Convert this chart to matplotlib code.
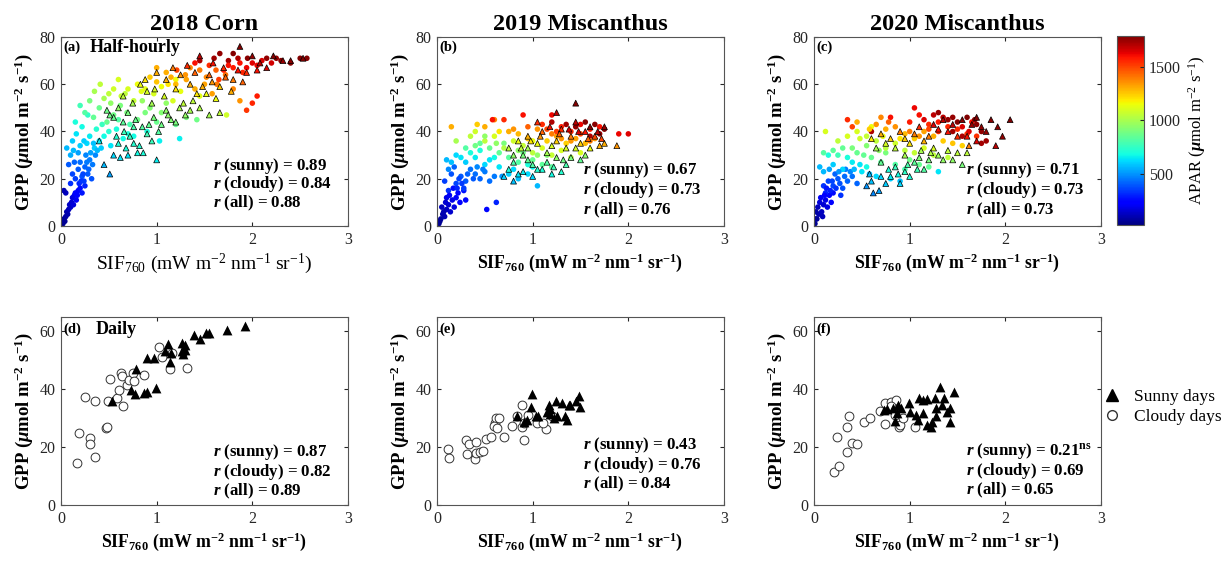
import numpy as np
import matplotlib.pyplot as plt
from matplotlib.lines import Line2D

plt.rcParams['font.family'] = ['Liberation Serif', 'DejaVu Serif']
plt.rcParams['mathtext.fontset'] = 'custom'
plt.rcParams['mathtext.rm'] = 'Liberation Serif'
plt.rcParams['mathtext.it'] = 'Liberation Serif:italic:bold'
plt.rcParams['mathtext.bf'] = 'Liberation Serif:bold'

# ---- half-hourly data, (SIF760, GPP, APAR) ----
a_cloudy = [
    (0.02, 1, 50), (0.03, 3, 60), (0.05, 4, 80), (0.06, 6, 90), (0.08, 7, 110), (0.09, 9, 130),
    (0.11, 10, 150), (0.12, 12, 170), (0.14, 13, 190), (0.05, 14, 120), (0.03, 15, 100), (0.16, 11, 200),
    (0.18, 15, 230), (0.20, 16, 260), (0.22, 14, 280), (0.25, 17, 300),
    (0.10, 18, 320), (0.12, 22, 360), (0.15, 20, 350), (0.18, 24, 400), (0.20, 27, 430), (0.22, 21, 380),
    (0.25, 25, 420), (0.28, 22, 400), (0.30, 28, 460), (0.33, 26, 450), (0.36, 30, 480), (0.14, 27, 420),
    (0.08, 26, 400), (0.26, 30, 470), (0.32, 20, 380),
    (0.06, 33, 560), (0.10, 30, 540), (0.12, 36, 600), (0.16, 39, 640), (0.20, 34, 600), (0.22, 42, 680),
    (0.27, 35, 620), (0.30, 38, 650), (0.35, 33, 600), (0.40, 36, 640), (0.45, 38, 680), (0.52, 34, 640),
    (0.58, 41, 700), (0.70, 39, 700), (0.76, 38, 680), (0.90, 40, 700), (1.03, 36, 660), (1.24, 37, 660),
    (0.15, 44, 700), (0.28, 47, 740), (0.20, 51, 780),
    (0.25, 48, 820), (0.34, 46, 850), (0.40, 50, 870), (0.48, 44, 860), (0.55, 47, 880), (0.62, 51, 900),
    (0.69, 48, 900), (0.80, 45, 880), (0.93, 50, 920), (1.00, 44, 870), (1.10, 52, 950), (1.31, 46, 900),
    (1.42, 45, 880), (1.20, 43, 860), (0.85, 53, 960),
    (0.41, 60, 1050), (0.50, 56, 1050), (0.55, 58, 1080), (0.63, 55, 1060), (0.70, 58, 1100), (0.76, 53, 1060),
    (0.84, 57, 1120), (0.97, 56, 1100), (1.05, 59, 1150), (1.17, 53, 1100), (1.25, 57, 1140), (1.45, 55, 1120),
    (1.73, 47, 1080), (0.60, 62, 1100), (0.45, 54, 1000), (1.20, 62, 1160),
    (0.93, 63, 1250), (1.00, 61, 1260), (1.10, 65, 1300), (1.20, 60, 1280), (1.31, 62, 1320), (1.40, 58, 1300),
    (1.52, 63, 1380), (1.63, 60, 1400), (1.72, 64, 1420), (1.80, 58, 1380), (1.87, 53, 1350), (1.45, 66, 1400),
    (1.35, 67, 1380), (1.00, 67, 1300), (1.58, 56, 1330),
    (1.21, 66, 1500), (1.55, 68, 1550), (1.70, 66, 1570), (1.80, 67, 1580), (1.87, 69, 1600), (1.94, 67, 1620),
    (2.00, 69, 1640), (1.90, 65, 1560), (2.00, 52, 1560), (2.05, 55, 1580), (1.94, 49, 1530), (2.10, 70, 1650),
    (2.20, 69, 1660), (1.65, 62, 1520),
    (1.45, 70, 1720), (1.60, 71, 1740), (1.66, 73, 1760), (1.80, 73, 1780), (1.95, 71, 1770), (2.15, 71, 1760),
    (2.30, 70, 1770), (2.40, 69, 1780), (2.50, 71, 1790), (2.57, 71, 1780), (1.75, 70, 1740),
    (0.04, 2, 60), (0.07, 5, 90), (0.10, 8, 130), (0.13, 9, 160), (0.15, 14, 220), (0.17, 13, 230),
    (0.19, 18, 300), (0.21, 19, 330), (0.23, 22, 360), (0.24, 19, 340), (0.27, 27, 450), (0.29, 24, 420),
    (0.31, 31, 520), (0.34, 35, 580), (0.38, 32, 560), (0.42, 33, 600), (0.18, 31, 520), (0.24, 36, 600),
    (0.13, 32, 560), (0.37, 41, 720), (0.43, 43, 760), (0.50, 40, 720), (0.65, 37, 680), (0.60, 45, 820),
    (0.72, 43, 800), (0.88, 48, 900), (1.05, 48, 920), (0.52, 52, 950), (0.67, 56, 1050), (0.80, 60, 1150),
    (0.88, 58, 1130), (1.12, 60, 1200), (1.30, 64, 1350), (1.50, 60, 1320), (1.62, 66, 1450), (1.75, 68, 1600),
    (1.85, 71, 1720), (2.05, 68, 1620), (2.25, 71, 1760), (1.40, 69, 1600), (1.15, 63, 1300), (0.30, 53, 900),
    (0.35, 57, 1000),
]
a_sunny = [
    (0.45, 26, 560), (0.51, 22, 520), (0.55, 30, 620), (0.62, 29, 640), (0.60, 35, 700), (0.68, 33, 700),
    (0.72, 38, 750), (0.76, 35, 720), (0.80, 31, 680), (0.86, 31, 700), (0.90, 39, 780), (0.95, 36, 760),
    (1.00, 28, 650), (0.85, 42, 820), (0.76, 42, 800), (0.65, 44, 840), (0.55, 46, 860), (0.51, 47, 880),
    (0.97, 46, 900), (1.05, 43, 880), (1.10, 49, 950), (1.15, 45, 920), (1.24, 50, 1000), (1.30, 47, 960),
    (1.38, 53, 1050), (1.45, 50, 1020), (1.52, 56, 1150), (1.55, 47, 1000), (1.66, 48, 1050), (1.66, 59, 1250),
    (1.80, 62, 1400), (1.94, 65, 1550), (2.15, 67, 1650), (2.32, 70, 1750), (2.53, 71, 1780), (0.65, 55, 1050),
    (0.75, 52, 1000), (0.83, 60, 1150), (0.90, 57, 1100), (1.00, 65, 1300), (1.08, 55, 1100), (1.17, 67, 1400),
    (1.25, 64, 1350), (1.35, 60, 1300), (1.45, 72, 1700), (1.59, 69, 1600), (1.70, 67, 1550), (1.87, 76, 1790),
    (2.00, 72, 1750), (2.22, 72, 1780), (0.48, 49, 880), (1.40, 65, 1450), (1.20, 58, 1200), (2.05, 66, 1600),
    (0.95, 52, 1000), (0.70, 48, 900),
    (0.58, 38, 720), (0.66, 40, 760), (0.70, 30, 640), (0.78, 45, 860), (0.82, 34, 720), (0.92, 43, 860),
    (1.02, 40, 820), (1.12, 47, 940), (1.20, 44, 900), (1.28, 52, 1050), (1.35, 49, 1000), (1.42, 56, 1200),
    (1.48, 59, 1300), (1.58, 61, 1350), (1.62, 54, 1150), (1.72, 63, 1450), (1.78, 57, 1300), (1.85, 66, 1600),
    (1.90, 61, 1450), (2.08, 69, 1700), (2.40, 70, 1770), (0.60, 50, 950), (0.88, 62, 1200), (1.10, 62, 1300),
    (1.32, 68, 1550), (1.55, 64, 1450), (0.98, 58, 1100), (0.40, 36, 650),
]

b_cloudy = [
    (0.02, 1, 50), (0.04, 3, 70), (0.06, 5, 90), (0.08, 4, 100), (0.10, 7, 120), (0.12, 9, 150),
    (0.14, 6, 140), (0.16, 11, 180), (0.18, 8, 170), (0.20, 12, 210), (0.22, 14, 240), (0.24, 10, 220),
    (0.28, 15, 270), (0.10, 12, 180), (0.05, 8, 120), (0.52, 7, 250), (0.62, 10, 300), (0.30, 11, 250),
    (0.08, 19, 350), (0.12, 15, 330), (0.15, 22, 380), (0.20, 18, 360), (0.25, 21, 400), (0.30, 19, 400),
    (0.35, 24, 440), (0.40, 22, 430), (0.45, 20, 420), (0.50, 23, 450), (0.55, 19, 430), (0.60, 21, 450),
    (0.18, 25, 420), (0.28, 16, 350),
    (0.10, 28, 560), (0.15, 27, 580), (0.20, 30, 620), (0.30, 27, 600), (0.40, 29, 650), (0.50, 26, 620),
    (0.65, 25, 640), (0.75, 22, 600), (0.85, 20, 580), (0.95, 22, 620), (1.05, 17, 560), (1.00, 25, 660),
    (0.60, 29, 680), (0.45, 32, 700),
    (0.30, 33, 820), (0.45, 35, 850), (0.55, 33, 860), (0.65, 31, 850), (0.75, 29, 830), (0.85, 27, 820),
    (1.00, 28, 860), (1.10, 26, 840), (1.20, 25, 830), (0.70, 35, 900), (0.90, 31, 880), (1.15, 30, 920),
    (0.35, 38, 1050), (0.40, 40, 1080), (0.50, 36, 1050), (0.60, 38, 1100), (0.70, 33, 1020), (0.80, 36, 1080),
    (0.90, 34, 1060), (1.00, 31, 1040), (1.10, 33, 1100), (1.20, 30, 1060), (1.30, 32, 1100), (1.40, 29, 1040),
    (1.50, 31, 1100), (0.20, 36, 1000),
    (0.15, 42, 1300), (0.50, 42, 1300), (0.60, 45, 1380), (0.75, 40, 1300), (0.85, 39, 1280), (0.95, 37, 1260),
    (1.05, 41, 1350), (1.15, 36, 1250), (1.25, 38, 1320), (1.35, 35, 1240), (1.45, 37, 1320), (1.55, 35, 1280),
    (1.65, 37, 1350), (0.42, 43, 1250),
    (0.70, 45, 1550), (0.90, 47, 1600), (1.10, 43, 1550), (1.20, 47, 1620), (1.30, 42, 1580), (1.40, 40, 1550),
    (1.50, 43, 1620), (1.60, 41, 1580), (1.70, 42, 1600), (1.90, 39, 1620), (2.00, 39, 1640), (1.25, 40, 1520),
    (1.35, 43, 1740), (1.45, 42, 1760), (1.55, 44, 1780), (1.65, 43, 1770), (1.75, 41, 1790), (1.70, 39, 1750),
    (1.60, 38, 1720), (1.20, 44, 1720),
    (0.03, 2, 60), (0.07, 6, 100), (0.09, 10, 150), (0.13, 13, 200), (0.17, 16, 260), (0.21, 16, 300),
    (0.23, 20, 360), (0.26, 18, 340), (0.32, 22, 410), (0.38, 20, 400), (0.42, 25, 480), (0.48, 24, 460),
    (0.55, 28, 640), (0.35, 31, 700), (0.25, 29, 640), (0.12, 24, 480), (0.68, 21, 500), (0.80, 24, 620),
    (0.95, 26, 700), (0.50, 38, 950), (0.40, 34, 880), (0.62, 35, 950), (0.85, 32, 950), (1.05, 30, 950),
    (0.65, 40, 1200), (0.80, 41, 1350), (0.95, 42, 1450), (1.00, 36, 1150), (1.20, 39, 1400), (1.40, 36, 1350),
    (1.50, 39, 1500), (1.60, 36, 1400), (0.58, 45, 1600), (1.15, 41, 1500), (1.30, 37, 1350),
]
b_sunny = [
    (0.70, 21, 600), (0.80, 19, 580), (0.90, 23, 650), (1.00, 21, 620), (1.10, 24, 700), (1.20, 22, 680),
    (1.30, 23, 720), (1.35, 26, 800), (0.80, 27, 800), (0.90, 30, 900), (1.00, 26, 820), (0.75, 33, 1050),
    (0.85, 36, 1150), (0.95, 38, 1300), (1.05, 35, 1150), (1.10, 40, 1450), (1.15, 31, 1000), (1.25, 36, 1250),
    (1.25, 29, 950), (1.30, 41, 1550), (1.35, 33, 1100), (1.40, 38, 1400), (1.45, 44, 1700), (1.45, 52, 1780),
    (1.50, 35, 1250), (1.55, 40, 1600), (1.60, 33, 1150), (1.65, 38, 1500), (1.70, 34, 1300), (1.75, 35, 1300),
    (1.88, 34, 1350), (1.75, 42, 1750), (1.25, 48, 1700), (1.05, 44, 1550), (1.40, 29, 900), (1.50, 28, 850),
    (1.55, 30, 950), (0.95, 33, 1000), (1.20, 34, 1100), (1.60, 42, 1780),
    (0.75, 24, 700), (0.85, 22, 640), (0.95, 28, 850), (1.05, 24, 720), (1.15, 27, 820), (1.22, 25, 780),
    (1.32, 28, 880), (0.88, 33, 1050), (0.98, 36, 1200), (1.08, 38, 1350), (1.18, 42, 1600), (1.28, 39, 1450),
    (1.38, 41, 1650), (1.48, 40, 1650), (1.58, 37, 1450), (1.68, 40, 1700), (1.72, 37, 1500), (0.80, 30, 950),
    (1.45, 33, 1100),
]

c_cloudy = [
    (0.01, 1, 50), (0.03, 3, 70), (0.05, 5, 90), (0.04, 8, 110), (0.08, 6, 120), (0.10, 9, 150),
    (0.12, 11, 180), (0.14, 8, 170), (0.07, 12, 200), (0.16, 13, 230), (0.20, 14, 260), (0.18, 10, 220),
    (0.02, 6, 80), (0.09, 4, 110),
    (0.10, 17, 330), (0.15, 19, 360), (0.20, 17, 360), (0.25, 20, 400), (0.30, 16, 380), (0.35, 19, 420),
    (0.40, 21, 440), (0.28, 13, 330), (0.22, 22, 420), (0.12, 14, 300), (0.45, 18, 420), (0.33, 24, 460),
    (0.06, 25, 560), (0.10, 23, 560), (0.20, 26, 600), (0.30, 24, 620), (0.40, 27, 650), (0.50, 23, 640),
    (0.55, 25, 680), (0.65, 21, 620), (0.80, 20, 600), (0.90, 19, 580), (1.30, 23, 640), (0.15, 30, 700),
    (0.35, 29, 700),
    (0.10, 31, 820), (0.20, 32, 840), (0.30, 33, 850), (0.45, 31, 860), (0.60, 29, 860), (0.70, 27, 840),
    (0.85, 26, 820), (0.95, 24, 800), (1.00, 28, 880), (1.10, 26, 860), (1.20, 25, 850), (0.55, 34, 920),
    (0.75, 31, 900),
    (0.25, 36, 1050), (0.35, 38, 1100), (0.45, 40, 1100), (0.55, 38, 1060), (0.65, 36, 1050), (0.75, 33, 1040),
    (0.85, 35, 1080), (0.95, 32, 1050), (1.05, 31, 1060), (1.15, 33, 1100), (1.25, 30, 1040), (1.40, 29, 1050),
    (0.12, 40, 1100), (0.60, 42, 1150),
    (0.45, 44, 1300), (0.65, 43, 1350), (0.75, 41, 1300), (0.85, 42, 1360), (0.95, 39, 1280), (1.05, 37, 1250),
    (1.15, 40, 1320), (1.25, 38, 1300), (1.35, 36, 1250), (1.45, 35, 1260), (1.55, 34, 1240), (0.70, 46, 1380),
    (0.35, 45, 1550), (0.80, 46, 1600), (1.00, 44, 1580), (1.05, 50, 1620), (1.10, 47, 1600), (1.20, 43, 1550),
    (1.30, 44, 1580), (1.40, 42, 1560), (1.50, 41, 1550), (1.60, 39, 1530), (1.70, 38, 1540), (1.65, 44, 1600),
    (0.40, 42, 1500),
    (0.60, 40, 1720), (1.30, 48, 1750), (1.40, 45, 1760), (1.50, 44, 1780), (1.60, 46, 1790), (1.70, 43, 1770),
    (1.75, 40, 1760), (1.80, 36, 1740), (1.55, 38, 1720), (1.45, 40, 1740), (1.75, 35, 1730),
    (0.02, 3, 60), (0.06, 10, 160), (0.11, 13, 220), (0.13, 16, 280), (0.17, 15, 290), (0.19, 19, 360),
    (0.23, 16, 330), (0.27, 18, 380), (0.32, 21, 430), (0.38, 23, 480), (0.26, 23, 500), (0.16, 24, 520),
    (0.42, 24, 560), (0.48, 26, 640), (0.58, 22, 580), (0.25, 30, 780), (0.40, 33, 900), (0.52, 30, 850),
    (0.68, 32, 950), (0.48, 37, 1080), (0.58, 41, 1250), (0.72, 38, 1150), (0.90, 37, 1200), (1.00, 40, 1400),
    (1.10, 38, 1350), (1.20, 41, 1500), (1.30, 40, 1550), (1.35, 46, 1700), (1.45, 46, 1750), (1.55, 42, 1650),
    (1.62, 40, 1650), (1.68, 45, 1780), (1.25, 47, 1700), (0.78, 44, 1450), (1.15, 45, 1650),
]
c_sunny = [
    (0.55, 17, 500), (0.62, 14, 480), (0.68, 15, 520), (0.60, 19, 580), (0.75, 18, 600), (0.80, 21, 650),
    (0.90, 18, 620), (0.85, 25, 760), (0.95, 23, 740), (1.05, 27, 840), (1.00, 21, 700), (1.10, 29, 920),
    (1.20, 28, 900), (1.15, 24, 820), (1.30, 30, 980), (1.40, 32, 1050), (1.45, 28, 950), (1.55, 26, 900),
    (1.60, 31, 1050), (0.60, 37, 1200), (0.70, 39, 1300), (0.80, 37, 1250), (0.90, 40, 1400), (1.00, 35, 1200),
    (1.10, 42, 1550), (1.20, 38, 1400), (1.30, 41, 1600), (1.35, 45, 1700), (1.45, 43, 1700), (1.50, 38, 1550),
    (1.55, 45, 1780), (1.65, 43, 1750), (1.70, 46, 1790), (1.75, 42, 1760), (1.85, 45, 1780), (1.92, 42, 1770),
    (1.97, 38, 1760), (2.05, 45, 1790), (1.90, 34, 1700), (1.70, 36, 1650), (1.25, 33, 1100), (0.95, 30, 1000),
    (0.70, 27, 850),
    (0.58, 22, 560), (0.70, 21, 620), (0.78, 24, 700), (0.88, 22, 680), (0.98, 26, 800), (1.08, 24, 780),
    (1.12, 32, 1000), (1.22, 31, 1020), (1.35, 28, 960), (1.50, 31, 1050), (0.65, 33, 1000), (0.75, 35, 1100),
    (0.85, 33, 1050), (0.95, 37, 1250), (1.05, 39, 1400), (1.15, 36, 1300), (1.25, 43, 1650), (1.40, 40, 1600),
    (1.60, 38, 1600), (1.80, 40, 1750), (1.62, 34, 1400),
]

# ---- daily data, (SIF760, GPP) ----
d_cloudy = [
    (0.17, 14.4), (0.19, 24.9), (0.30, 23.1), (0.30, 21.0), (0.36, 16.7), (0.25, 37.3), (0.36, 36.1),
    (0.47, 26.5), (0.48, 26.8), (0.51, 43.5), (0.49, 36.0), (0.59, 36.9), (0.61, 39.8), (0.63, 45.7),
    (0.64, 44.6), (0.65, 34.3), (0.69, 41.5), (0.71, 43.3), (0.75, 45.6), (0.76, 43.0), (0.87, 45.0),
    (1.02, 54.6), (1.06, 51.3), (1.14, 46.9), (1.16, 52.5), (1.32, 47.5),
]
d_sunny = [
    (0.53, 36.0), (0.78, 47.0), (0.73, 39.8), (0.77, 38.3), (0.87, 38.6), (0.90, 39.2), (0.99, 40.6),
    (0.90, 50.8), (0.97, 50.8), (1.09, 53.1), (1.12, 55.6), (1.14, 49.6), (1.15, 52.5), (1.26, 56.0),
    (1.28, 52.2), (1.30, 55.2), (1.30, 53.6), (1.39, 58.8), (1.45, 57.3), (1.52, 59.6), (1.55, 59.4),
    (1.74, 60.6), (1.92, 62.0), (1.27, 53.4),
]
e_cloudy = [
    (0.12, 19.3), (0.13, 16.1), (0.30, 22.5), (0.33, 21.0), (0.31, 17.5), (0.41, 21.9), (0.40, 15.9),
    (0.41, 17.9), (0.45, 18.3), (0.48, 18.5), (0.51, 22.7), (0.56, 23.4), (0.61, 28.3), (0.62, 30.0),
    (0.65, 30.0), (0.60, 27.3), (0.63, 26.5), (0.70, 23.6), (0.78, 27.3), (0.84, 30.6), (0.89, 34.6),
    (0.89, 27.1), (0.91, 22.5), (0.91, 28.5), (0.95, 31.1), (1.05, 28.5), (1.14, 26.4), (1.20, 30.8),
    (1.11, 28.3),
]
e_sunny = [
    (0.84, 30.6), (0.99, 38.3), (0.98, 34.0), (0.94, 29.4), (0.91, 28.8), (1.03, 30.6), (1.06, 30.8),
    (1.15, 32.0), (1.17, 34.6), (1.18, 33.1), (1.24, 35.8), (1.25, 30.6), (1.31, 35.4), (1.34, 30.8),
    (1.36, 29.4), (1.38, 34.6), (1.39, 34.6), (1.45, 36.1), (1.48, 37.7), (1.49, 34.0), (1.22, 30.2),
    (1.18, 31.4),
]
f_cloudy = [
    (0.21, 11.5), (0.26, 13.5), (0.24, 23.6), (0.34, 18.2), (0.35, 27.1), (0.37, 30.6), (0.40, 21.6),
    (0.45, 21.0), (0.52, 28.8), (0.59, 30.2), (0.69, 32.6), (0.74, 35.2), (0.74, 28.0), (0.80, 35.5),
    (0.86, 36.3), (0.85, 31.1), (0.89, 27.1), (0.90, 27.7), (0.93, 30.0), (1.06, 27.1), (0.81, 34.4),
]
f_sunny = [
    (0.73, 32.9), (0.76, 33.2), (0.83, 33.4), (0.85, 29.1), (0.87, 31.7), (0.88, 34.6), (0.91, 33.4),
    (0.99, 35.2), (1.00, 32.3), (1.07, 31.1), (1.09, 29.4), (1.10, 36.9), (1.14, 36.3), (1.18, 36.7),
    (1.14, 31.7), (1.18, 27.7), (1.22, 27.1), (1.27, 36.9), (1.28, 30.6), (1.28, 33.4), (1.32, 40.7),
    (1.34, 34.6), (1.36, 36.9), (1.39, 32.3), (1.42, 28.8), (1.42, 33.4), (1.46, 39.0), (1.23, 28.8),
]

titles = ['2018 Corn', '2019 Miscanthus', '2020 Miscanthus']
top_stats = [('0.89', '0.84', '0.88'), ('0.67', '0.73', '0.76'), ('0.71', '0.73', '0.73')]
bottom_stats = [('0.87', '0.82', '0.89'), ('0.43', '0.76', '0.84'), (r'0.21$^{\mathbf{ns}}$', '0.69', '0.65')]

APAR_MIN, APAR_MAX = 20, 1790
INK = '#262626'

xlab_plain = r'SIF$_{760}$ (mW m$^{-2}$ nm$^{-1}$ sr$^{-1}$)'
xlab_bold = r'SIF$_{\mathbf{760}}$ (mW m$^{\mathbf{-2}}$ nm$^{\mathbf{-1}}$ sr$^{\mathbf{-1}}$)'
ylab = r'GPP ($\mu$mol m$^{\mathbf{-2}}$ s$^{\mathbf{-1}}$)'


def style_axes(ax, ymax, yticks):
    ax.set_xlim(0, 3)
    ax.set_ylim(0, ymax)
    ax.set_xticks([0, 1, 2, 3])
    ax.set_yticks(yticks)
    ax.tick_params(direction='in', top=True, right=True, length=3, width=0.8,
                   labelsize=11.5, colors=INK, labelcolor=INK, pad=4)
    for sp in ax.spines.values():
        sp.set_color('#555555')
        sp.set_linewidth(0.8)
    ax.set_ylabel(ylab, fontsize=13.5, fontweight='bold', labelpad=3)


def stats_text(ax, vals, ys, x):
    names = ['sunny', 'cloudy', 'all']
    for name, v, y in zip(names, vals, ys):
        ax.text(x, y, r'$r$ (%s) = %s' % (name, v), transform=ax.transAxes,
                fontsize=12.2, fontweight='bold', va='center', ha='left')


fig = plt.figure(figsize=(12.28, 5.62), dpi=100)
lefts = [61 / 1228, 437 / 1228, 814 / 1228]
width = 287 / 1228
top_bottom, top_height = 1 - 226 / 562, 189 / 562
bot_bottom, bot_height = 1 - 505 / 562, 188 / 562

half_hourly = [(a_cloudy, a_sunny), (b_cloudy, b_sunny), (c_cloudy, c_sunny)]
daily = [(d_cloudy, d_sunny), (e_cloudy, e_sunny), (f_cloudy, f_sunny)]
top_letters = ['(a)', '(b)', '(c)']
bot_letters = ['(d)', '(e)', '(f)']
top_stat_x = [0.53, 0.51, 0.53]
bot_stat_x = [0.53, 0.51, 0.53]

sc = None
for i in range(3):
    ax = fig.add_axes([lefts[i], top_bottom, width, top_height])
    cloudy = np.array(half_hourly[i][0])
    sunny = np.array(half_hourly[i][1])
    sc = ax.scatter(cloudy[:, 0], cloudy[:, 1], c=cloudy[:, 2], cmap='jet',
                    vmin=APAR_MIN, vmax=APAR_MAX, s=16, marker='o', linewidths=0)
    ax.scatter(sunny[:, 0], sunny[:, 1], c=sunny[:, 2], cmap='jet',
               vmin=APAR_MIN, vmax=APAR_MAX, s=18, marker='^',
               edgecolors='black', linewidths=0.5)
    style_axes(ax, 80, [0, 20, 40, 60, 80])
    ax.set_xlabel(xlab_plain if i == 0 else xlab_bold, fontsize=14 if i == 0 else 12.8,
                  fontweight='normal' if i == 0 else 'bold', labelpad=3)
    ax.set_title(titles[i], fontsize=17.5, fontweight='bold', pad=5)
    ax.text(0.008, 0.945, top_letters[i], transform=ax.transAxes, fontsize=10.5,
            fontweight='bold', va='center', ha='left')
    if i == 0:
        ax.text(0.10, 0.945, 'Half-hourly', transform=ax.transAxes, fontsize=13,
                fontweight='bold', va='center', ha='left')
    ys = [0.32, 0.22, 0.12] if i == 0 else [0.295, 0.19, 0.085]
    stats_text(ax, top_stats[i], ys, top_stat_x[i])

    ax2 = fig.add_axes([lefts[i], bot_bottom, width, bot_height])
    dc = np.array(daily[i][0])
    ds = np.array(daily[i][1])
    ax2.scatter(dc[:, 0], dc[:, 1], s=40, marker='o', facecolors='white',
                edgecolors='#333333', linewidths=0.7)
    ax2.scatter(ds[:, 0], ds[:, 1], s=50, marker='^', color='black', linewidths=0)
    style_axes(ax2, 65, [0, 20, 40, 60])
    ax2.set_xlabel(xlab_bold, fontsize=12.8, fontweight='bold', labelpad=3)
    ax2.text(0.008, 0.935, bot_letters[i], transform=ax2.transAxes, fontsize=10.5,
             fontweight='bold', va='center', ha='left')
    if i == 0:
        ax2.text(0.12, 0.935, 'Daily', transform=ax2.transAxes, fontsize=13,
                 fontweight='bold', va='center', ha='left')
    ys = [0.28, 0.175, 0.07] if i == 0 else ([0.32, 0.215, 0.11] if i == 1 else [0.285, 0.18, 0.08])
    stats_text(ax2, bottom_stats[i], ys, bot_stat_x[i])

cax = fig.add_axes([1117 / 1228, 1 - 225 / 562, 27 / 1228, 189 / 562])
cb = fig.colorbar(sc, cax=cax, ticks=[500, 1000, 1500])
cb.ax.tick_params(direction='in', length=3, labelsize=11.5, colors=INK)
cb.outline.set_edgecolor('#555555')
cb.outline.set_linewidth(0.8)
cb.set_label(r'APAR ($\mu$mol m$^{-2}$ s$^{-1}$)', fontsize=12, labelpad=4)

handles = [Line2D([], [], linestyle='none', marker='^', color='black', markersize=8),
           Line2D([], [], linestyle='none', marker='o', markerfacecolor='white',
                  markeredgecolor='#333333', markersize=7)]
fig.legend(handles, ['Sunny days', 'Cloudy days'], loc='center left',
           bbox_to_anchor=(1103 / 1228, 1 - 407 / 562), frameon=False, fontsize=12.5,
           handletextpad=0.8, labelspacing=0.2, handlelength=1.0, borderpad=0,
           borderaxespad=0)

fig.savefig('out.png', dpi=100)
